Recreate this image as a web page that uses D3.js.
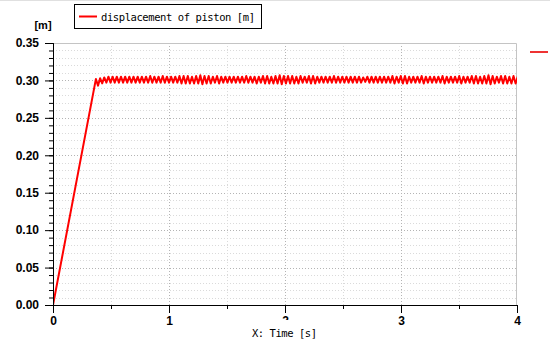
<!DOCTYPE html>
<html>
<head>
<script src="https://d3js.org/d3.v7.min.js"></script>
<style>
  body { margin: 0; background: #fff; }
  svg { display: block; }
  .axis .tick text { font-family: "Liberation Sans", Arial, sans-serif; font-weight: bold; font-size: 12px; fill: #000; }
  .mono { font-family: "DejaVu Sans Mono", "Liberation Mono", monospace; font-size: 10.5px; fill: #000; }
</style>
</head>
<body>
<script>
// y axis ticks (major + minor), x axis ticks
var yMajor = [0, 0.05, 0.10, 0.15, 0.20, 0.25, 0.30, 0.35];
var yMinor = d3.range(0, 0.351, 0.01);
var xMajor = [0, 1, 2, 3, 4];
var xMinor = [0.5, 1.5, 2.5, 3.5];

// ramp up of the piston
var rampT = [0, 0.37];
var rampY = [0, 0.302];

// oscillation after the ramp: one high and one low per cycle
var oscStart = 0.37, oscPeriod = 0.036;
var oscHigh = [
  0.302,0.303,0.304,0.305,0.305,0.305,0.305,0.305,0.305,0.305,
  0.305,0.305,0.305,0.306,0.305,0.305,0.306,0.305,0.305,0.305,
  0.306,0.306,0.306,0.305,0.306,0.307,0.306,0.306,0.305,0.306,
  0.305,0.305,0.305,0.305,0.305,0.305,0.306,0.305,0.305,0.305,
  0.306,0.306,0.305,0.306,0.307,0.306,0.306,0.306,0.305,0.306,
  0.305,0.306,0.306,0.305,0.305,0.305,0.305,0.306,0.305,0.305,
  0.305,0.305,0.305,0.305,0.304,0.305,0.305,0.305,0.305,0.305,
  0.305,0.306,0.305,0.306,0.306,0.305,0.305,0.305,0.306,0.305,
  0.305,0.305,0.305,0.306,0.305,0.305,0.305,0.306,0.305,0.305,
  0.306,0.306,0.305,0.306,0.307,0.306,0.305,0.306,0.306,0.305,0.306,0.305
];
var oscLow = [
  0.293,0.296,0.297,0.297,0.297,0.297,0.297,0.297,0.297,0.297,
  0.297,0.297,0.297,0.297,0.297,0.297,0.297,0.297,0.297,0.297,
  0.296,0.296,0.296,0.296,0.296,0.295,0.296,0.296,0.297,0.296,
  0.297,0.297,0.297,0.297,0.297,0.297,0.297,0.297,0.296,0.297,
  0.296,0.296,0.296,0.296,0.295,0.296,0.296,0.296,0.296,0.297,
  0.297,0.296,0.296,0.297,0.297,0.297,0.297,0.297,0.297,0.297,
  0.297,0.297,0.297,0.297,0.298,0.297,0.297,0.297,0.297,0.297,
  0.297,0.296,0.297,0.296,0.296,0.297,0.297,0.297,0.296,0.297,
  0.297,0.297,0.297,0.296,0.297,0.297,0.297,0.296,0.297,0.297,
  0.296,0.296,0.296,0.296,0.295,0.296,0.297,0.296,0.296,0.296,0.296,0.297
];

var W = 550, H = 342;
var margin = {top: 43, left: 53, right: 33, bottom: 37};
var width = W - margin.left - margin.right;
var height = H - margin.top - margin.bottom;

var svg = d3.select("body").append("svg")
    .attr("width", W)
    .attr("height", H);

// faint window edge on top
svg.append("line").attr("x1", 0).attr("x2", W).attr("y1", 0.5).attr("y2", 0.5)
    .attr("stroke", "#e0e0e0");

var g = svg.append("g")
    .attr("transform", "translate(" + margin.left + "," + margin.top + ")");

var x = d3.scaleLinear().domain([0, 4]).range([0, width]);
var y = d3.scaleLinear().domain([0, 0.35]).range([height, 0]);

// grid
g.selectAll(".hgrid").data(yMinor.filter(function(d){ return d > 0.001 && d < 0.349; }))
  .enter().append("line")
    .attr("x1", 0).attr("x2", width)
    .attr("y1", function(d){ return Math.round(y(d)) + 0.5; })
    .attr("y2", function(d){ return Math.round(y(d)) + 0.5; })
    .attr("stroke", function(d){ return Math.abs(d / 0.05 - Math.round(d / 0.05)) < 0.01 ? "#b4b4b4" : "#dadada"; })
    .attr("stroke-dasharray", "1,2");

g.selectAll(".vgrid").data(xMinor.concat([1, 2, 3]))
  .enter().append("line")
    .attr("y1", 0).attr("y2", height)
    .attr("x1", function(d){ return Math.round(x(d)) + 0.5; })
    .attr("x2", function(d){ return Math.round(x(d)) + 0.5; })
    .attr("stroke", function(d){ return d % 1 === 0 ? "#b4b4b4" : "#dadada"; })
    .attr("stroke-dasharray", "1,2");

// frame top/right
g.append("path")
    .attr("d", "M0,0.5H" + (width - 0.5) + "V" + height)
    .attr("fill", "none")
    .attr("stroke", "#c4c4c4");

// data
var pts = rampT.map(function(t, i){ return [t, rampY[i]]; });
oscHigh.forEach(function(h, i){
  var t = oscStart + i * oscPeriod;
  if (i > 0) pts.push([t, h]);
  if (oscLow[i] !== undefined) pts.push([t + oscPeriod / 2, oscLow[i]]);
});

g.append("clipPath").attr("id", "clip")
  .append("rect").attr("x", 0).attr("y", -2).attr("width", width).attr("height", height + 4);

var line = d3.line()
    .x(function(d){ return x(d[0]); })
    .y(function(d){ return y(d[1]); });

g.append("path")
    .datum(pts)
    .attr("clip-path", "url(#clip)")
    .attr("d", line)
    .attr("fill", "none")
    .attr("stroke", "#ff0000")
    .attr("stroke-width", 2)
    .attr("stroke-linejoin", "round");

// axes
g.append("g").attr("class", "axis")
    .call(d3.axisLeft(y).tickValues(yMajor).tickSize(8).tickPadding(6)
      .tickFormat(d3.format(".2f")));
g.append("g")
    .call(d3.axisLeft(y).tickValues(yMinor).tickSize(4).tickFormat(""));

g.append("g").attr("class", "axis")
    .attr("transform", "translate(0," + height + ")")
    .call(d3.axisBottom(x).tickValues(xMajor).tickSize(8).tickPadding(3)
      .tickFormat(d3.format("d")));
g.append("g")
    .attr("transform", "translate(0," + height + ")")
    .call(d3.axisBottom(x).tickValues(xMinor).tickSize(4).tickFormat(""));

g.selectAll(".domain").attr("stroke", "#000");
g.selectAll(".tick line").attr("stroke", "#000");

// x axis title on white box (hides lower part of the "2")
svg.append("rect").attr("x", 250).attr("y", 320).attr("width", 69).attr("height", 22).attr("fill", "#fff");
svg.append("text").attr("class", "mono")
    .attr("x", 252).attr("y", 337)
    .attr("textLength", 65).attr("lengthAdjust", "spacing")
    .text("X: Time [s]");

// y unit
svg.append("text")
    .attr("x", 43).attr("y", 29)
    .attr("text-anchor", "middle")
    .style("font-family", "Liberation Sans, Arial, sans-serif")
    .style("font-weight", "bold")
    .style("font-size", "11px")
    .text("[m]");

// legend
svg.append("rect").attr("x", 74.5).attr("y", 4.5).attr("width", 187).attr("height", 24)
    .attr("fill", "#fff").attr("stroke", "#000");
svg.append("line").attr("x1", 79).attr("x2", 97).attr("y1", 16.5).attr("y2", 16.5)
    .attr("stroke", "#ff0000").attr("stroke-width", 2);
svg.append("text").attr("class", "mono")
    .attr("x", 101).attr("y", 20.5)
    .attr("textLength", 154).attr("lengthAdjust", "spacing")
    .text("displacement of piston [m]");

// clipped second legend marker on the right edge
svg.append("line").attr("x1", 530).attr("x2", 548).attr("y1", 52).attr("y2", 52)
    .attr("stroke", "#ee3333").attr("stroke-width", 2);
</script>
</body>
</html>
